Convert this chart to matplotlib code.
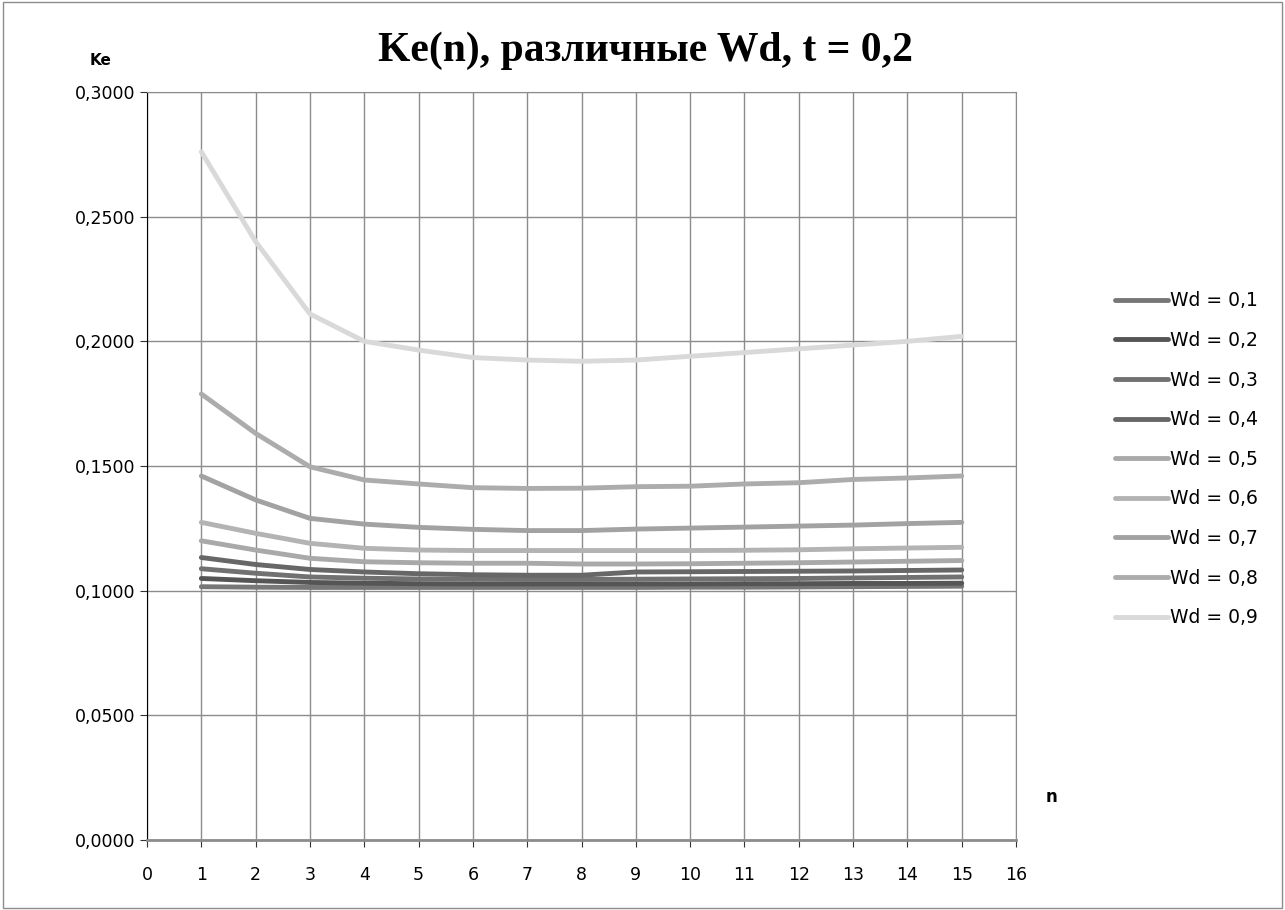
import matplotlib.pyplot as plt
import matplotlib.ticker as mticker
import numpy as np

n = np.arange(1, 16)

wd_labels = ["Wd = 0,1", "Wd = 0,2", "Wd = 0,3", "Wd = 0,4", "Wd = 0,5",
             "Wd = 0,6", "Wd = 0,7", "Wd = 0,8", "Wd = 0,9"]

ke_01 = [0.1016, 0.1014, 0.1013, 0.1013, 0.1013, 0.1013, 0.1013, 0.1013,
         0.1013, 0.1014, 0.1014, 0.1015, 0.1016, 0.1017, 0.1018]
ke_02 = [0.1049, 0.1040, 0.1033, 0.1030, 0.1028, 0.1027, 0.1027, 0.1027,
         0.1027, 0.1027, 0.1028, 0.1028, 0.1029, 0.1029, 0.1030]
ke_03 = [0.1088, 0.1070, 0.1055, 0.1050, 0.1047, 0.1046, 0.1045, 0.1045,
         0.1046, 0.1047, 0.1048, 0.1049, 0.1051, 0.1053, 0.1055]
ke_04 = [0.1133, 0.1105, 0.1085, 0.1075, 0.1068, 0.1064, 0.1062, 0.1062,
         0.1075, 0.1076, 0.1077, 0.1078, 0.1079, 0.1081, 0.1083]
ke_05 = [0.1200, 0.1163, 0.1130, 0.1116, 0.1112, 0.1110, 0.1110, 0.1107,
         0.1107, 0.1108, 0.1110, 0.1112, 0.1115, 0.1118, 0.1121]
ke_06 = [0.1274, 0.1230, 0.1190, 0.1170, 0.1163, 0.1161, 0.1161, 0.1161,
         0.1161, 0.1161, 0.1162, 0.1164, 0.1168, 0.1171, 0.1174]
ke_07 = [0.1460, 0.1364, 0.1290, 0.1267, 0.1254, 0.1246, 0.1241, 0.1241,
         0.1247, 0.1251, 0.1255, 0.1259, 0.1263, 0.1269, 0.1274]
ke_08 = [0.1789, 0.1631, 0.1497, 0.1444, 0.1428, 0.1413, 0.1410, 0.1411,
         0.1417, 0.1419, 0.1428, 0.1433, 0.1446, 0.1452, 0.1460]
ke_09 = [0.2760, 0.2400, 0.2110, 0.2000, 0.1965, 0.1935, 0.1925, 0.1920,
         0.1925, 0.1940, 0.1955, 0.1970, 0.1985, 0.2000, 0.2020]

series = [ke_01, ke_02, ke_03, ke_04, ke_05, ke_06, ke_07, ke_08, ke_09]
colors = ["#777777", "#555555", "#717171", "#676767", "#a9a9a9",
          "#b3b3b3", "#a2a2a2", "#acacac", "#d9d9d9"]

fig = plt.figure(figsize=(12.85, 9.1), dpi=100)
ax = fig.add_axes([0.1144, 0.0769, 0.6763, 0.822])

for ys, c, lab in zip(series, colors, wd_labels):
    ax.plot(n, ys, color=c, lw=3.5, solid_capstyle="round",
            solid_joinstyle="round", label=lab)

ax.set_xlim(0, 16)
ax.set_ylim(0, 0.3)
ax.set_xticks(np.arange(0, 17))
ax.set_yticks(np.arange(0, 0.3001, 0.05))
ax.yaxis.set_major_formatter(
    mticker.FuncFormatter(lambda v, p: f"{v:.4f}".replace(".", ",")))
ax.grid(True, color="#8c8c8c", lw=1)
ax.set_axisbelow(True)
ax.tick_params(axis="both", labelsize=12.5, length=5, color="#333333",
               labelcolor="black")
ax.tick_params(axis="x", pad=14)
for s in ["top", "right"]:
    ax.spines[s].set_color("#8c8c8c")
ax.spines["left"].set_color("black")
ax.spines["bottom"].set_color("#8c8c8c")
ax.spines["bottom"].set_linewidth(2)

fig.text(0.502, 0.944, "Ke(n), различные Wd, t = 0,2", ha="center",
         va="center", fontsize=30, fontweight="bold",
         family="Liberation Serif")
fig.text(0.078, 0.934, "Ke", fontsize=11, fontweight="bold", ha="center",
         va="center")
fig.text(0.818, 0.124, "n", fontsize=12, fontweight="bold", ha="center",
         va="center")

ax.legend(loc="center left", bbox_to_anchor=(1.095, 0.509), frameon=False,
          fontsize=13.5, handlelength=2.8, handletextpad=0.1,
          labelspacing=1.1)

# outer chart border
fig.patches.append(plt.Rectangle((0.002, 0.002), 0.996, 0.996,
                                 transform=fig.transFigure, fill=False,
                                 ec="#8c8c8c", lw=1))

fig.savefig("out.png", dpi=100)
